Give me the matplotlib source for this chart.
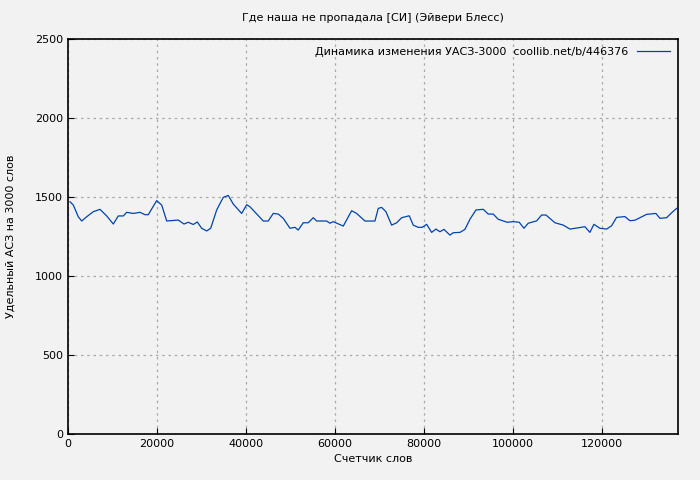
import matplotlib
matplotlib.use("Agg")
import matplotlib.pyplot as plt

words = [450,1190,2310,3080,4200,5690,7190,8700,10180,11300,12430,13190,14670,16180,17300,18040,19930,21060,22180,24790,26070,27030,28160,29060,30040,31170,32070,33420,34900,36020,37150,39030,40160,40900,42400,43890,45010,46130,47260,48380,49890,51010,51750,52880,54000,55120,55890,58130,58880,59620,61870,63750,64870,66740,68990,69730,70490,71460,72740,73870,74990,76700,77600,78720,79620,80610,81730,82700,83600,84490,85840,86580,88090,89210,90340,91690,93330,94450,95570,96700,98720,100070,101420,102470,103440,105330,106450,107420,109440,111310,112810,114670,116180,117300,118200,119550,121060,122180,123300,125170,126290,127420,130040,132130,133030,134540,135660,136790]
values = [1470,1449,1375,1348,1375,1407,1422,1380,1329,1380,1380,1403,1396,1403,1388,1388,1477,1449,1348,1354,1329,1340,1326,1342,1302,1285,1302,1418,1498,1510,1455,1396,1451,1438,1393,1348,1348,1396,1392,1365,1302,1308,1291,1337,1337,1369,1348,1348,1334,1344,1316,1413,1396,1348,1348,1428,1434,1407,1322,1337,1369,1381,1322,1308,1308,1327,1276,1297,1280,1295,1259,1274,1276,1295,1359,1418,1422,1392,1392,1359,1340,1344,1340,1302,1334,1349,1386,1386,1337,1322,1297,1305,1312,1276,1327,1302,1297,1318,1371,1376,1350,1353,1390,1396,1365,1369,1400,1428]

bg = "#f2f2f2"
fig = plt.figure(figsize=(7, 4.8), dpi=100, facecolor=bg)
ax = fig.add_axes([68/700, 46/480, 610/700, 395/480], facecolor=bg)
ax.plot(words, values, color="#0044aa", lw=0.9, label="Динамика изменения УАСЗ-3000  coollib.net/b/446376")
ax.set_xlim(0, 137100)
ax.set_ylim(0, 2500)
ax.set_xticks(range(0, 130000, 20000))
ax.set_yticks(range(0, 2501, 500))
ax.grid(True, color="#aaaaaa", linestyle=(0, (2, 3)), lw=0.9)
ax.tick_params(labelsize=8, direction="in", length=4)
for s in ax.spines.values():
    s.set_linewidth(1.2)
ax.set_xlabel("Счетчик слов", fontsize=8, labelpad=4)
ax.set_ylabel("Удельный АСЗ на 3000 слов", fontsize=8)
ax.yaxis.set_label_coords(-52/610, 0.5)
ax.set_title("Где наша не пропадала [СИ] (Эйвери Блесс)", fontsize=8, pad=13)
ax.legend(loc="upper right", frameon=False, fontsize=8, markerfirst=False, handlelength=3,
          borderaxespad=0.3)
fig.savefig("out.png", dpi=100, facecolor=bg)
